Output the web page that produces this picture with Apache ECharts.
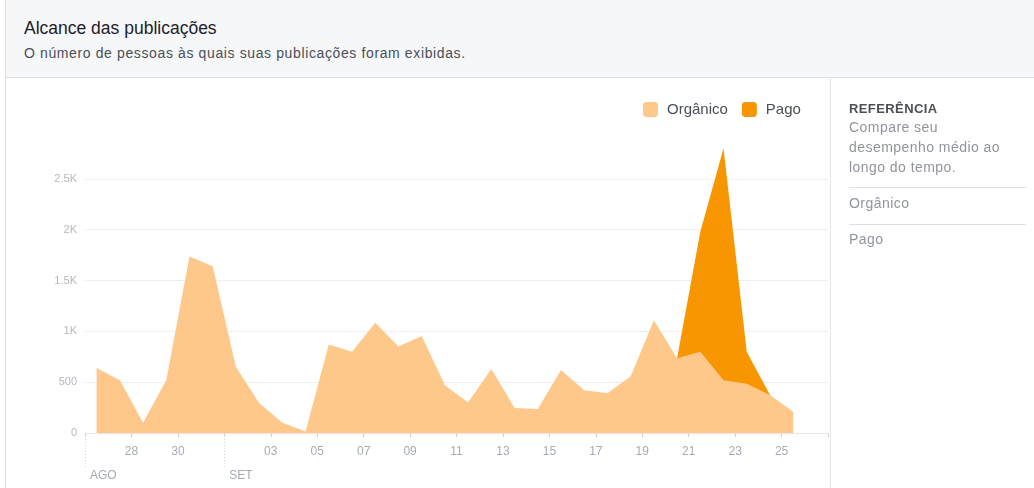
<!DOCTYPE html>
<html lang="pt-BR">
<head>
<meta charset="utf-8">
<title>Alcance das publicações</title>
<script src="https://cdn.jsdelivr.net/npm/echarts@6/dist/echarts.min.js"></script>
<style>
  html, body { margin: 0; padding: 0; background: #fff; }
  body { width: 1034px; height: 488px; position: relative; overflow: hidden;
         font-family: "Liberation Sans", Arial, Helvetica, sans-serif; }
  #frame { position: absolute; left: 5px; top: 0; right: 0; bottom: 0;
           border-left: 1px solid #dddfe2; }
  #header { position: absolute; left: 6px; top: 0; right: 0; height: 77px;
            background: #f6f7f9; border-bottom: 1px solid #dddfe2; }
  #title { position: absolute; left: 18px; top: 18px; font-size: 17.5px; color: #1d2129; }
  #subtitle { position: absolute; left: 18px; top: 45px; font-size: 14px; letter-spacing: 0.62px;
              color: #4b4f56; }
  #chart { position: absolute; left: 0; top: 0; width: 1034px; height: 488px; }
  #side { position: absolute; left: 830px; top: 78px; bottom: 0; right: 0;
          border-left: 1px solid #e5e6e9; }
  #side .head { position: absolute; left: 18px; top: 23px; font-size: 13px; font-weight: bold;
                letter-spacing: 0.4px; color: #4b4f56; }
  #side .desc { position: absolute; left: 18px; top: 39px; width: 190px; font-size: 14px;
                letter-spacing: 0.45px; line-height: 20px; color: #90949c; }
  #side .rule { position: absolute; left: 18px; right: 8px; height: 1px; background: #dddfe2; }
  #side .item { position: absolute; left: 18px; font-size: 14px; letter-spacing: 0.45px; color: #90949c; }
</style>
</head>
<body>
<div id="frame"></div>
<div id="header">
  <div id="title">Alcance das publicações</div>
  <div id="subtitle">O número de pessoas às quais suas publicações foram exibidas.</div>
</div>
<div id="chart"></div>
<div id="side">
  <div class="head">REFERÊNCIA</div>
  <div class="desc">Compare seu<br>desempenho médio ao<br>longo do tempo.</div>
  <div class="rule" style="top:109px"></div>
  <div class="item" style="top:117px">Orgânico</div>
  <div class="rule" style="top:146px"></div>
  <div class="item" style="top:153px">Pago</div>
</div>
<script>
// Daily reach, 26 Aug – 25 Sep
const dias = [26, 27, 28, 29, 30, 31, 1, 2, 3, 4, 5, 6, 7, 8, 9, 10, 11, 12, 13, 14,
              15, 16, 17, 18, 19, 20, 21, 22, 23, 24, 25];
const organico = [640, 520, 100, 520, 1735, 1640, 650, 295, 100, 15, 870, 800, 1085, 850,
                  955, 470, 300, 630, 245, 235, 620, 420, 390, 555, 1110, 735, 800, 520,
                  485, 375, 210];
const pago = [0, 0, 0, 0, 0, 0, 0, 0, 0, 0, 0, 0, 0, 0, 0, 0, 0, 0, 0, 0,
              0, 0, 0, 0, 0, 0, 1180, 2280, 315, 0, 0];

// Axis ticks every two days, counted from 26 Aug (day 0); month starts get a separator
const rotulosDias = ['', '28', '30', '', '03', '05', '07', '09', '11', '13', '15',
                     '17', '19', '21', '23', '25', ''];
const meses = ['AGO', 'SET'];
const inicioMeses = [0, 6];
const diasNoEixo = 32;

const corOrganico = '#fec88a';
const corPago = '#f79600';

// each day's value is plotted at the middle of that day
const pontos = arr => arr.map((v, i) => [i + 0.5, v]);

// paid reach sits on top of organic: its area is drawn to the running total,
// behind the organic area, only around the days that have paid reach
const totalPago = pago.map((v, i) =>
  (v > 0 || pago[i - 1] > 0 || pago[i + 1] > 0) ? organico[i] + v : '-');

const chart = echarts.init(document.getElementById('chart'), null, { renderer: 'canvas' });
chart.setOption({
  animation: false,
  textStyle: { fontFamily: '"Liberation Sans", Arial, sans-serif' },
  legend: {
    data: ['Orgânico', 'Pago'],
    left: 638, top: 97,
    icon: 'roundRect', itemWidth: 15, itemHeight: 15, itemGap: 14,
    selectedMode: false,
    textStyle: { fontSize: 15, color: '#4b4f56', padding: [0, 0, 0, 4] }
  },
  grid: { left: 85, right: 206, top: 128, bottom: 55 },
  xAxis: [
    {
      type: 'value', min: 0, max: diasNoEixo, interval: 2,
      axisLine: { show: true, lineStyle: { color: '#e5e6e9', type: 'dotted' } },
      axisTick: { show: true, length: 4, lineStyle: { color: '#cfd2d7' } },
      splitLine: { show: false },
      axisLabel: {
        margin: 13, fontSize: 12, color: '#a6abb3',
        formatter: v => rotulosDias[Math.round(v / 2)] || ''
      }
    },
    {
      type: 'value', min: 0, max: diasNoEixo, position: 'bottom',
      axisLine: { show: false },
      splitLine: { show: false },
      axisTick: {
        show: true, length: 34, customValues: inicioMeses,
        lineStyle: { color: '#d3d6db', type: [1, 2] }
      },
      axisLabel: {
        margin: 37, fontSize: 12, color: '#a6abb3', align: 'left', padding: [0, 0, 0, 5],
        customValues: inicioMeses,
        formatter: v => meses[inicioMeses.indexOf(Math.round(v))] || ''
      }
    }
  ],
  yAxis: {
    type: 'value', min: 0, max: 3000, interval: 500,
    axisLine: { show: false }, axisTick: { show: false },
    splitLine: { show: true, showMaxLine: false, lineStyle: { color: '#eceef1' } },
    axisLabel: {
      margin: 8, fontSize: 11, color: '#b4b8bf', showMaxLabel: false,
      formatter: v => v >= 1000 ? (v / 1000) + 'K' : String(v)
    }
  },
  series: [
    {
      name: 'Pago', type: 'line', data: pontos(totalPago),
      symbol: 'none', lineStyle: { width: 0 }, z: 2,
      itemStyle: { color: corPago },
      areaStyle: { color: corPago, opacity: 1 }
    },
    {
      name: 'Orgânico', type: 'line', data: pontos(organico),
      symbol: 'none', lineStyle: { width: 0 }, z: 3,
      itemStyle: { color: corOrganico },
      areaStyle: { color: corOrganico, opacity: 1 }
    }
  ]
});
</script>
</body>
</html>
